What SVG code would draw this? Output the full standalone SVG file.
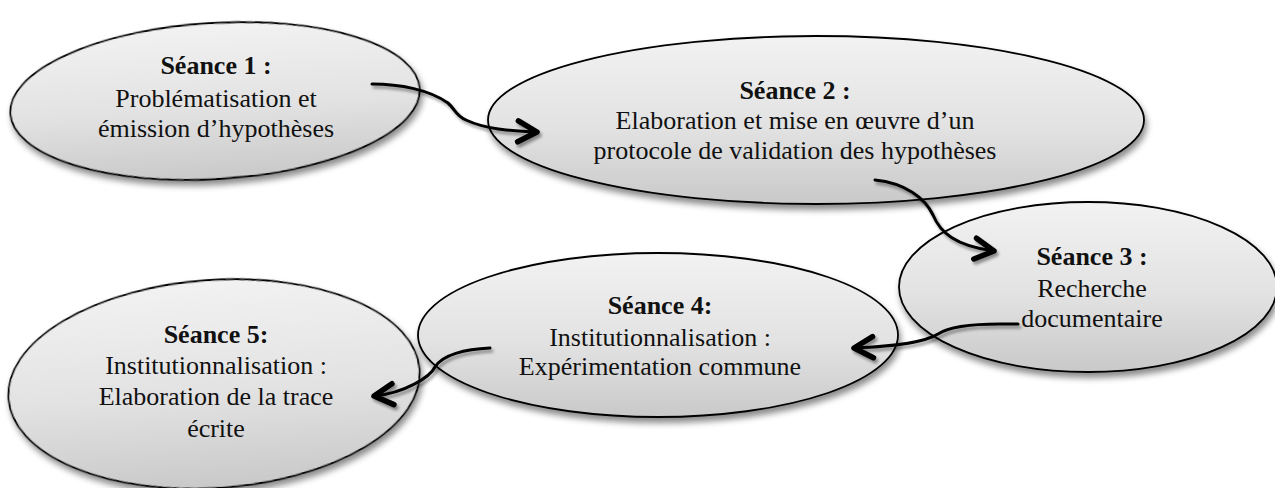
<svg xmlns="http://www.w3.org/2000/svg" width="1275" height="488" viewBox="0 0 1275 488">
<defs>
<linearGradient id="g" x1="0" y1="0" x2="0" y2="1">
<stop offset="0" stop-color="#f2f2f2"/>
<stop offset="0.55" stop-color="#e2e2e2"/>
<stop offset="1" stop-color="#c9c9c9"/>
</linearGradient>
<filter id="sh" x="-10%" y="-10%" width="125%" height="135%">
<feDropShadow dx="2" dy="5" stdDeviation="3" flood-color="#000" flood-opacity="0.45"/>
</filter>
<filter id="lsh" x="-10%" y="-20%" width="130%" height="160%">
<feDropShadow dx="2" dy="3" stdDeviation="1.8" flood-color="#000" flood-opacity="0.4"/>
</filter>
<marker id="chev" markerUnits="userSpaceOnUse" viewBox="-26 -16 32 32" refX="0" refY="0" markerWidth="32" markerHeight="32" orient="auto" overflow="visible">
<path d="M-19,-10.5 L0,0 L-19,10.5" fill="none" stroke="#000" stroke-width="5.5" stroke-linecap="round" stroke-linejoin="round"/>
</marker>
</defs>
<style>
.node ellipse{fill:url(#g);stroke:#000;stroke-width:1.8;filter:url(#sh)}
text{font-family:"Liberation Serif","Times New Roman",serif;font-size:26px;fill:#111;text-anchor:middle}
.b{font-weight:bold}
.conn path{fill:none;stroke:#000;stroke-width:3;stroke-linecap:round;marker-end:url(#chev)}
</style>
<rect width="1275" height="488" fill="#fff"/>
<g id="seance1" class="node">
<ellipse cx="215" cy="101" rx="205" ry="78" transform="rotate(-3.5 215 101)"/>
<text x="216" y="74" class="b">Séance 1 :</text>
<text x="216" y="107">Problématisation et</text>
<text x="216" y="137">émission d’hypothèses</text>
</g>
<g id="seance2" class="node">
<ellipse cx="816" cy="120" rx="328" ry="84"/>
<text x="795" y="99" class="b">Séance 2 :</text>
<text x="795" y="129">Elaboration et mise en œuvre d’un</text>
<text x="795" y="159">protocole de validation des hypothèses</text>
</g>
<g id="seance3" class="node">
<ellipse cx="1088" cy="287" rx="189" ry="85"/>
<text x="1092" y="265" class="b">Séance 3 :</text>
<text x="1092" y="297">Recherche</text>
<text x="1092" y="327">documentaire</text>
</g>
<g id="seance4" class="node">
<ellipse cx="658" cy="335" rx="240" ry="82"/>
<text x="660" y="314" class="b">Séance 4:</text>
<text x="660" y="346">Institutionnalisation :</text>
<text x="660" y="375">Expérimentation commune</text>
</g>
<g id="seance5" class="node">
<ellipse cx="214" cy="384" rx="206" ry="104" transform="rotate(-4 214 384)"/>
<text x="216" y="343" class="b">Séance 5:</text>
<text x="216" y="374">Institutionnalisation :</text>
<text x="216" y="405">Elaboration de la trace</text>
<text x="216" y="437">écrite</text>
</g>
<g id="connectors" class="conn" filter="url(#lsh)">
<path d="M372,84 C400,84 430,90 448,103 C456,110 455,115 466,120 C485,129 510,131 537,132"/>
<path d="M875,180 C905,183 925,198 933,215 C940,232 955,246 994,251"/>
<path d="M1018,324 L1000,324 C975,324 950,326 938,334 C925,342 900,346 854,348"/>
<path d="M490,348 C465,349 442,355 435,367 C430,377 405,393 374,396"/>
</g>
</svg>
